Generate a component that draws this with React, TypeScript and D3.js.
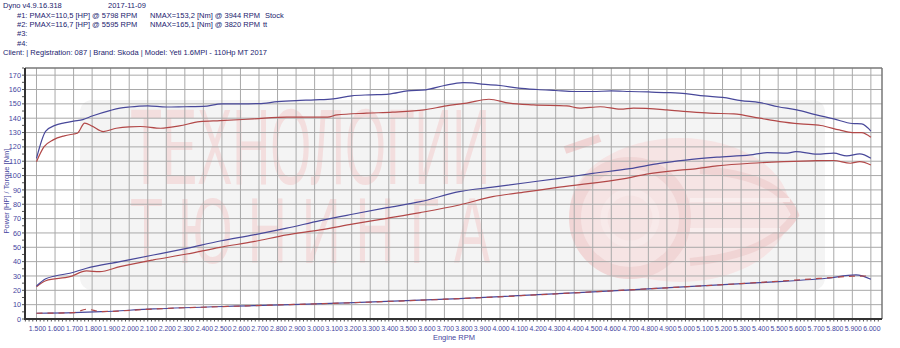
import React from "react";
import * as d3 from "d3";

// ---------- DATA ----------
const torqueTtRpm = [1500,1550,1600,1650,1700,1750,1800,1900,1950,2000,2100,2200,2300,2400,2500,2600,2700,2800,2900,3000,3100,3200,3300,3400,3500,3600,3700,3800,3850,3900,4000,4100,4200,4300,4400,4500,4600,4700,4800,4900,5000,5100,5200,5300,5400,5500,5600,5700,5800,5900,5950,6000];
const torqueTtVal = [112,131,135,136.7,138,139,141.5,145.5,147,147.8,148.6,147.8,148,148.2,150,150,150.2,151.5,152.3,152.8,153.5,155.6,156.3,156.8,159,159.8,162.8,164.8,164.6,163.8,162.8,161,160,159.3,158.6,158.6,159,158.6,158.3,157.9,157.2,155.5,154.5,152.3,150.9,148,145.8,142.5,139.5,136.3,136,131];

const torqueStockRpm = [1500,1540,1590,1650,1700,1720,1760,1800,1860,1930,2000,2060,2170,2270,2380,2490,2670,2850,3030,3070,3120,3280,3420,3590,3710,3820,3940,4050,4180,4360,4430,4540,4650,4720,4900,5010,5130,5260,5400,5510,5620,5730,5830,5900,5950,6000];
const torqueStockVal = [109.7,120,124.9,127.7,129,129.5,136.5,134.5,130.7,133,134,134.2,133,134.6,137.6,138.3,139.5,140.7,140.7,140.7,142.3,143.5,144.2,145.8,148.6,150.5,153.2,150.5,149.3,148.6,147,148,146.3,147,145.8,144.6,143.5,143,140,137.6,136,134.9,131.8,130,130,126.7];

const powerTtRpm = [1500,1550,1600,1680,1770,1950,2130,2310,2490,2670,2850,3030,3210,3390,3570,3780,3960,4140,4320,4500,4700,4860,5000,5170,5350,5440,5550,5595,5710,5800,5870,5940,6000];
const powerTtVal = [23,28,30,31.9,35.4,40,44.6,49.3,54.4,58.6,63.3,68.6,73.2,77.6,81.8,88.8,91.9,95,98.1,101.5,104.8,108.5,110.8,112.8,114.4,116,115.6,116.7,114.9,115.6,113.7,115.1,112.1];

const powerStockRpm = [1500,1550,1680,1770,1840,1950,2130,2310,2490,2670,2850,3030,3210,3390,3570,3780,3960,4140,4320,4680,4790,4970,5040,5170,5350,5530,5710,5798,5890,5940,6000];
const powerStockVal = [22.5,26.7,29.5,33.5,33,36.5,41.2,45.3,50,53.9,58.6,62.1,66.3,70.2,74.2,79.5,85.3,88.6,91.9,98.1,101,103.8,104.5,106.7,108.6,109.7,110.4,110.5,108.6,109.7,107.4];

const lossTtRpm = [1500,1700,1850,2130,2670,3210,3780,4680,5400,5760,5920,6000];
const lossTtVal = [4,4.4,5.1,7,9.3,11.4,14.2,20.2,25.3,28.4,30.7,27.7];

const lossStockRpm = [1500,1700,1770,1850,2130,2670,3210,3780,4680,5400,5760,5900,6000];
const lossStockVal = [4,4.4,6.8,5.2,7,9.3,11.4,14.2,20.2,25.5,28.6,29.8,30];

const xTicks = d3.range(1500, 6001, 100);
const yTicks = d3.range(0, 171, 10);

const headerLines = [
  "Dyno v4.9.16.318",
  "#1: PMAX=110,5 [HP] @ 5798 RPM",
  "#2: PMAX=116,7 [HP] @ 5595 RPM",
  "#3:",
  "#4:",
  "Client:  | Registration: 087 | Brand: Skoda | Model: Yeti 1.6MPI - 110Hp MT 2017",
];
const headerDate = "2017-11-09";
const nmaxLines = ["NMAX=153,2 [Nm] @ 3944 RPM", "NMAX=165,1 [Nm] @ 3820 RPM"];
const runNames = ["Stock", "tt"];

// ---------- CHART ----------
const W = 900, H = 348;
const left = 25, right = 882, top = 68, bottom = 319;

export default function App() {
  const x = d3.scaleLinear().domain([1438, 6060]).range([left, right]);
  const y = d3.scaleLinear().domain([0, 175]).range([bottom, top]);
  const line = (rpm: number[], val: number[]) =>
    d3.line<number>().x((_, i) => x(rpm[i])).y((v) => y(v)).curve(d3.curveMonotoneX)(val) || "";

  const blue = "#48489a";
  const red = "#b24848";
  const textBlue = "#4646a0";
  const font = "'Liberation Sans', Arial, sans-serif";
  const minorX = d3.range(1440, 6060, 20);
  const minorY = d3.range(0, 176, 5);
  const narrow = "'Liberation Sans Narrow', 'Liberation Sans', sans-serif";

  return (
    <svg width={W} height={H} style={{ position: "absolute", left: 0, top: 0, background: "#fff" }} fontFamily={font}>
      <rect x={0} y={0} width={W} height={H} fill="#fff" />
      {/* header */}
      <g fontSize={7.5} fill="#22226e">
        <text x={3} y={8}>{headerLines[0]}</text>
        <text x={108} y={8}>{headerDate}</text>
        <text x={17} y={17.5}>{headerLines[1]}</text>
        <text x={150} y={17.5}>{nmaxLines[0]}</text>
        <text x={265} y={17.5}>{runNames[0]}</text>
        <text x={17} y={27}>{headerLines[2]}</text>
        <text x={150} y={27}>{nmaxLines[1]}</text>
        <text x={263} y={27}>{runNames[1]}</text>
        <text x={17} y={36.3}>{headerLines[3]}</text>
        <text x={17} y={45.5}>{headerLines[4]}</text>
        <text x={3} y={55}>{headerLines[5]}</text>
      </g>

      {/* watermark */}
      <rect x={80} y={100} width={745} height={190} rx={12} fill="#f4f4f4" />
      <g fill="#f3dede">
        <text x={130} y={184} fontSize={108} textLength={360} lengthAdjust="spacingAndGlyphs" fontFamily={narrow}>ТЕХНОЛОГИИ</text>
        <text x={130} y={263} fontSize={92} textLength={360} lengthAdjust="spacingAndGlyphs" fontFamily={narrow}>Т Ю Н И Н Г А</text>
      </g>
      <g fill="none">
        <ellipse cx={680} cy={210} rx={110} ry={72} fill="#f6e4e4" />
        <circle cx={630} cy={218} r={55} stroke="#f1d6d6" strokeWidth={12} />
        <circle cx={630} cy={218} r={26} stroke="#f8eaea" strokeWidth={7} />
        <path d="M 700 170 Q 780 175 795 215 Q 770 255 690 262" stroke="#f0d4d4" strokeWidth={8} />
        <path d="M 565 150 L 600 138" stroke="#f0d4d4" strokeWidth={8} />
        <path d="M 690 200 L 790 200 M 690 230 L 780 230" stroke="#f9eeee" strokeWidth={4} />
      </g>

      {/* grid */}
      <g stroke="#a9a9a9" strokeWidth={1}>
        {xTicks.map((t) => (
          <line key={"gx" + t} x1={x(t)} x2={x(t)} y1={top} y2={bottom} />
        ))}
        {yTicks.filter((t) => t > 0).map((t) => (
          <line key={"gy" + t} x1={left} x2={right} y1={y(t)} y2={y(t)} />
        ))}
      </g>

      {/* frame */}
      <line x1={left} x2={right} y1={top} y2={top} stroke="#777" strokeWidth={1.5} />
      <line x1={right} x2={right} y1={top} y2={bottom} stroke="#777" strokeWidth={1.5} />
      <line x1={left} x2={left} y1={top} y2={bottom + 1} stroke="#333" strokeWidth={2} />
      <line x1={left - 1} x2={right} y1={bottom} y2={bottom} stroke="#333" strokeWidth={2} />
      <g stroke="#555" strokeWidth={1}>
        {minorX.map((t) => (
          <line key={"mx" + t} x1={x(t)} x2={x(t)} y1={bottom + 1} y2={bottom + 2.5} />
        ))}
        {minorY.map((t) => (
          <line key={"my" + t} x1={left - 3} x2={left - 1} y1={y(t)} y2={y(t)} />
        ))}
      </g>

      {/* curves */}
      <g fill="none" strokeWidth={1.2}>
        <path d={line(lossTtRpm, lossTtVal)} stroke={blue} />
        <path d={line(lossStockRpm, lossStockVal)} stroke={red} strokeDasharray="6 5" />
        <path d={line(powerStockRpm, powerStockVal)} stroke={red} />
        <path d={line(powerTtRpm, powerTtVal)} stroke={blue} />
        <path d={line(torqueStockRpm, torqueStockVal)} stroke={red} />
        <path d={line(torqueTtRpm, torqueTtVal)} stroke={blue} />
      </g>

      {/* tick labels */}
      <g fontSize={7.3} fill={textBlue} textAnchor="end">
        {yTicks.map((t) => (
          <text key={"ly" + t} x={21} y={y(t) + 2.6}>{t}</text>
        ))}
      </g>
      <g fontSize={6.9} fill={textBlue} textAnchor="middle">
        {xTicks.map((t) => (
          <text key={"lx" + t} x={x(t) + 1} y={330.5}>{d3.format(".3f")(t / 1000)}</text>
        ))}
      </g>
      <text x={454} y={340} fontSize={7.5} fill={textBlue} textAnchor="middle">Engine RPM</text>
      <text transform={`translate(8.5, 191) rotate(-90)`} fontSize={7.5} fill={textBlue} textAnchor="middle">Power [HP] / Torque [Nm]</text>
    </svg>
  );
}
